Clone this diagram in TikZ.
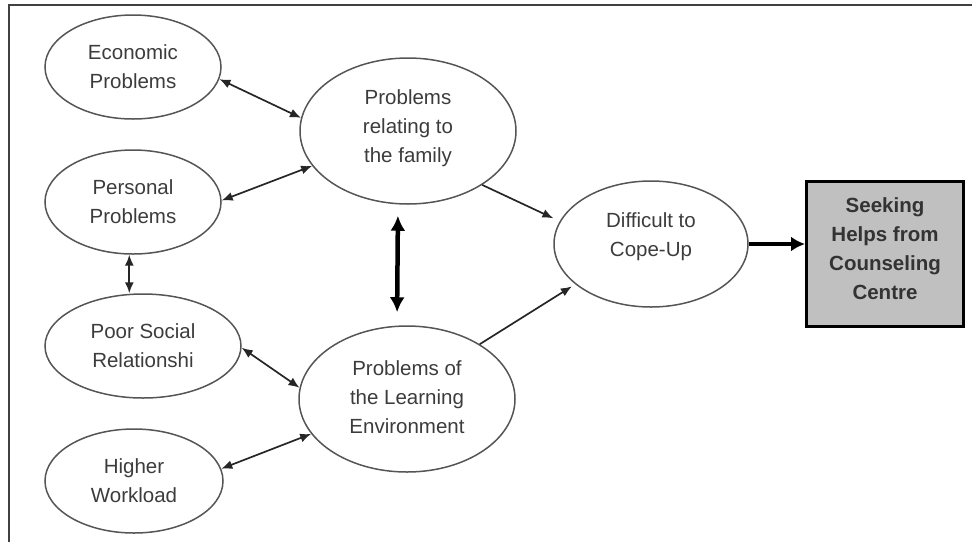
\documentclass[tikz,border=0pt]{standalone}
\usepackage{fontspec}
\setmainfont{Liberation Sans}
\usetikzlibrary{shapes.geometric,arrows.meta}

\definecolor{inkgray}{HTML}{3C3C3C}
\definecolor{rimgray}{HTML}{555555}
\definecolor{boxfill}{HTML}{C0C0C0}

\tikzset{
  factor/.style={ellipse, draw=rimgray, line width=1.5pt, inner sep=0pt,
    align=center, text=inkgray, font=\fontsize{20.5}{29}\selectfont},
  goalbox/.style={rectangle, draw=black, line width=3pt, fill=boxfill,
    inner sep=0pt, minimum width=157pt, minimum height=145pt},
  boxtext/.style={align=center, text=black!80,
    font=\bfseries\fontsize{20.5}{29}\selectfont},
  plaintext/.style={align=center, text=inkgray, font=\fontsize{20.5}{29}\selectfont},
  link/.style={draw=black!85, line width=1.7pt,
    arrows={Latex[length=11pt,width=9pt]-Latex[length=11pt,width=9pt]}},
  flow/.style={draw=black!85, line width=1.7pt, -{Latex[length=11pt,width=9pt]}},
  strong/.style={draw=black, line width=4.5pt,
    arrows={Latex[length=15pt,width=15pt]-Latex[length=15pt,width=15pt]}},
  strongflow/.style={draw=black, line width=4.5pt, -{Latex[length=14pt,width=15pt]}},
  frameline/.style={draw=black!75, line width=2pt}
}

\begin{document}
\begin{tikzpicture}[x=1pt, y=-1pt]
  \useasboundingbox (0,0) rectangle (972,542);

  % open frame: top and left edges only
  \coordinate (fa) at (9,542);
  \coordinate (fb) at (9,5);
  \coordinate (fc) at (972,5);
  \draw[frameline] (fa) -- (fb) -- (fc);

  % influencing factors
  \node[factor, minimum width=176pt, minimum height=104pt] (econ) at (133,67) {Economic\\Problems};
  \node[factor, minimum width=176pt, minimum height=104pt] (personal) at (133,202) {Personal\\Problems};
  \node[factor, minimum width=196pt, minimum height=104pt] (poor) at (143,346) {Poor Social\\Relationshi};
  \node[factor, minimum width=178pt, minimum height=104pt] (higher) at (134,481) {Higher\\Workload};

  % grouped problems (text set slightly above the centre)
  \node[factor, minimum width=216pt, minimum height=146pt,
        label={[plaintext, yshift=3pt]center:Problems\\relating to\\the family}] (family) at (408,131) {};
  \node[factor, minimum width=216pt, minimum height=146pt,
        label={[plaintext, yshift=2pt]center:Problems of\\the Learning\\Environment}] (learning) at (407,399) {};

  % outcome
  \node[factor, minimum width=194pt, minimum height=126pt,
        label={[plaintext, yshift=7pt]center:Difficult to\\Cope-Up}] (cope) at (651,244) {};
  \node[goalbox, label={[boxtext, yshift=5pt]center:Seeking\\Helps from\\Counseling\\Centre}] (seek) at (885,254) {};

  % mutual influences
  \draw[link] (econ.-8) -- (family.173);
  \draw[link] (personal.1) -- (family.200);
  \draw[link] (personal.266) -- (personal.266 |- poor.north);
  \draw[link] (poor.-1) -- (learning.174);
  \draw[link] (higher.8) -- (learning.200);
  \draw[strong, shorten <=11pt, shorten >=13pt]
    ([xshift=-10pt]family.south) -- ([xshift=-10pt]learning.north);

  % effects on coping
  \draw[flow, shorten >=7pt] (family.-36) -- (cope.166);
  \draw[flow, shorten >=4pt] (learning.37) -- (cope.208);
  \draw[strongflow] (cope.east) -- (cope.east -| seek.west);
\end{tikzpicture}
\end{document}
